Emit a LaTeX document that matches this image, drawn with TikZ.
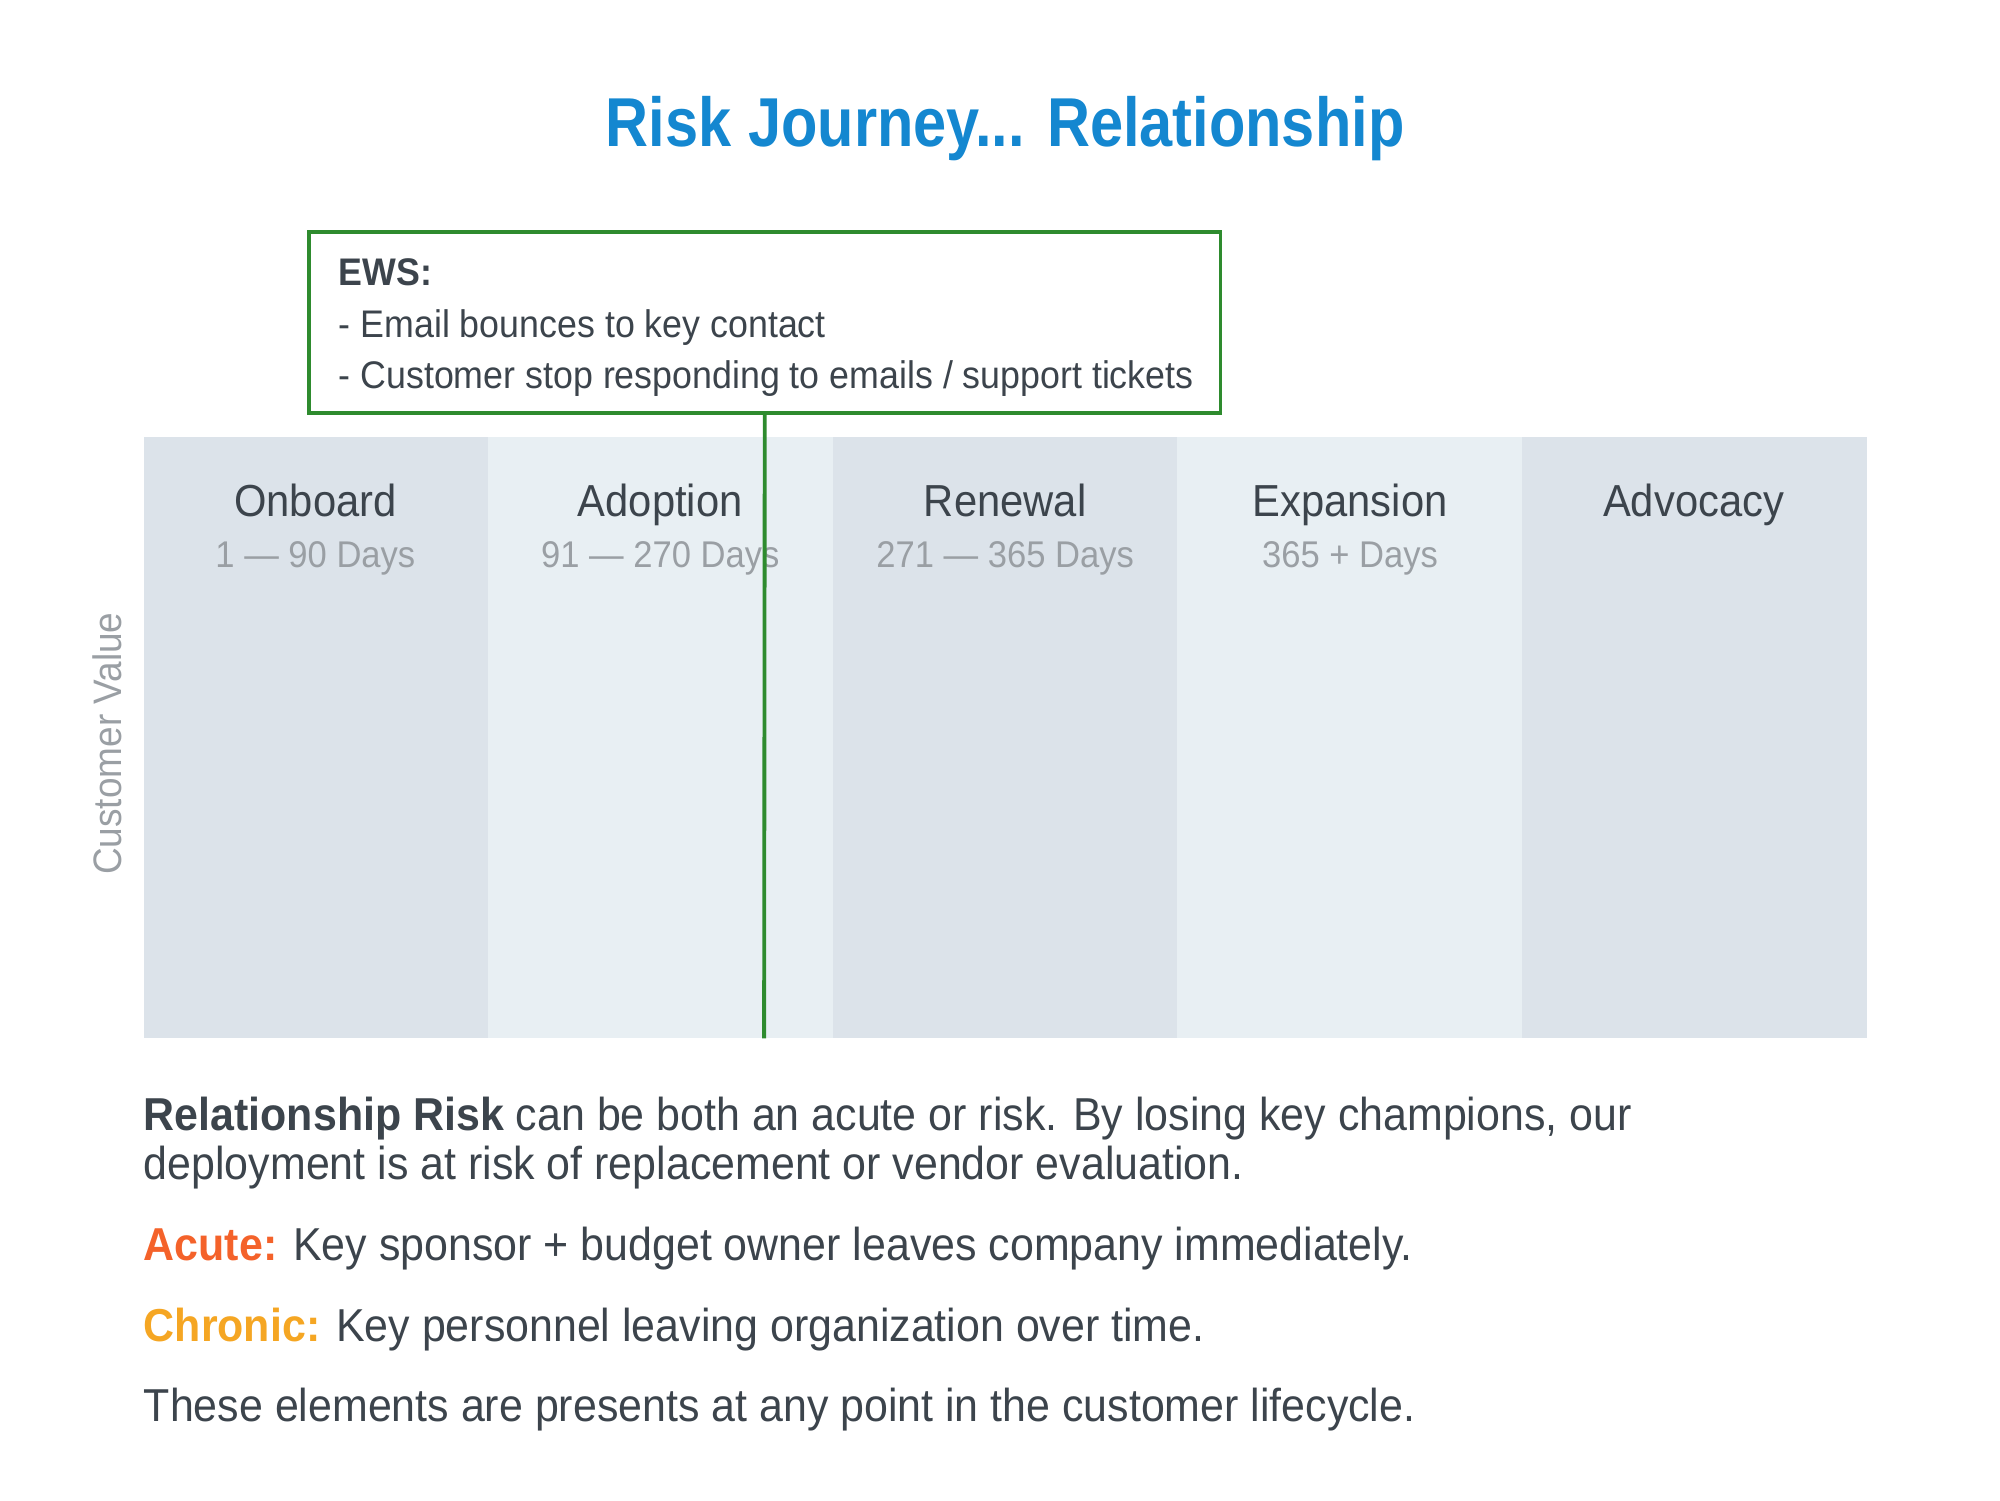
\documentclass[tikz,border=0pt]{standalone}
\usepackage{fontspec}
\setmainfont{Liberation Sans}[FakeStretch=0.93]
\newfontfamily\ttlfont{Liberation Sans}[FakeStretch=0.86]
\definecolor{ttl}{HTML}{1487D0}
\definecolor{grn}{HTML}{2E8B2E}
\definecolor{colA}{HTML}{DCE3EA}
\definecolor{colB}{HTML}{E8EFF3}
\definecolor{dark}{HTML}{3C444C}
\definecolor{gry}{HTML}{9A9FA4}
\definecolor{acute}{HTML}{F4622A}
\definecolor{chronic}{HTML}{F5A623}
\tikzset{
 colhead/.style={anchor=base,text=dark,font=\fontsize{35}{40}\selectfont},
 coldays/.style={anchor=base,text=gry,font=\fontsize{29}{32}\selectfont},
 body/.style={anchor=base west,text=dark,font=\fontsize{36}{38}\selectfont,inner sep=0},
 ews/.style={anchor=base west,text=dark,font=\fontsize{30}{32}\selectfont,inner sep=0}
}
\begin{document}
\begin{tikzpicture}[x=1pt,y=-1pt]
\useasboundingbox (0,0) rectangle (1560,1170);
\node[text=ttl,font=\ttlfont\fontsize{54}{58}\selectfont\bfseries] (title) at (784,100) {Risk Journey... Relationship};
\fill[colA] (112,341) rectangle (381,810);
\fill[colB] (381,341) rectangle (650,810);
\fill[colA] (650,341) rectangle (918,810);
\fill[colB] (918,341) rectangle (1187,810);
\fill[colA] (1187,341) rectangle (1456,810);
\node[colhead] (c1) at (246,403) {Onboard};
\node[colhead] (c2) at (515,403) {Adoption};
\node[colhead] (c3) at (784,403) {Renewal};
\node[colhead] (c4) at (1053,403) {Expansion};
\node[colhead] (c5) at (1321,403) {Advocacy};
\node[coldays] at (246,443) {1 — 90 Days};
\node[coldays] at (515,443) {91 — 270 Days};
\node[coldays] at (784,443) {271 — 365 Days};
\node[coldays] at (1053,443) {365 + Days};
\node[text=gry,font=\fontsize{31}{34}\selectfont,rotate=90] (cv) at (84,580) {Customer Value};
\node[draw=grn,line width=3pt,fill=white,minimum width=711pt,minimum height=141pt,inner sep=0] (box) at (596.5,251.5) {};
\coordinate (lend) at (596,810);
\draw[grn,line width=3pt] (box.south) -- (lend);
\node[ews] at (264,223) {\bfseries EWS:};
\node[ews] at (264,263) {- Email bounces to key contact};
\node[ews] at (264,303) {- Customer stop responding to emails / support tickets};
\node[body] at (112,882) {\bfseries Relationship Risk\mdseries{} can be both an acute or risk. By losing key champions, our};
\node[body] at (112,920) {deployment is at risk of replacement or vendor evaluation.};
\node[body] at (112,983) {\textcolor{acute}{\bfseries Acute:} Key sponsor + budget owner leaves company immediately.};
\node[body] at (112,1046) {\textcolor{chronic}{\bfseries Chronic:} Key personnel leaving organization over time.};
\node[body] at (112,1109) {These elements are presents at any point in the customer lifecycle.};
\end{tikzpicture}
\end{document}
